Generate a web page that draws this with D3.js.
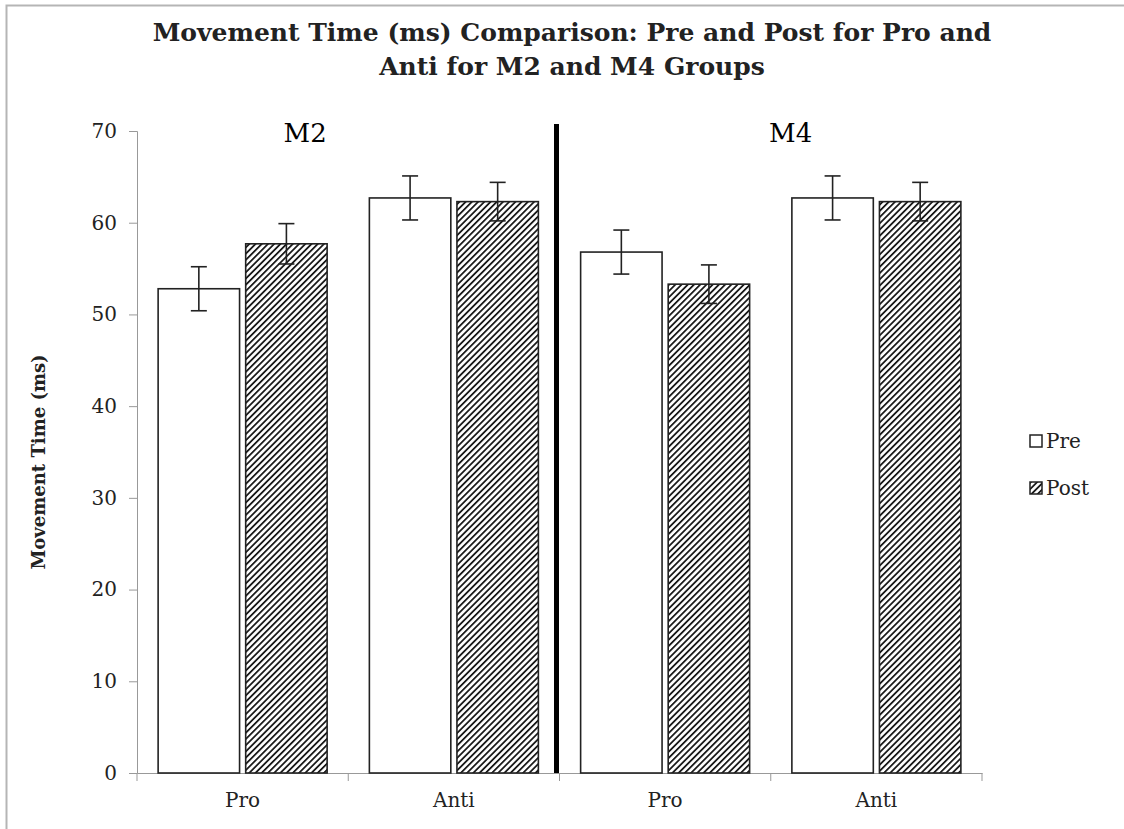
<!DOCTYPE html>
<html>
<head>
<meta charset="utf-8">
<script src="https://cdn.jsdelivr.net/npm/d3@7"></script>
<style>
  body { margin: 0; background: #fff; }
  text { font-family: "DejaVu Serif", serif; }
</style>
</head>
<body>
<div id="chart"></div>
<script>
var categories = ['M2 Pro', 'M2 Anti', 'M4 Pro', 'M4 Anti'];
var tickLabels = ['Pro', 'Anti', 'Pro', 'Anti'];
var series = ['Pre', 'Post'];
var preValues = [52.8, 62.7, 56.8, 62.7];
var postValues = [57.7, 62.3, 53.3, 62.3];
var preErrors = [2.4, 2.4, 2.4, 2.4];
var postErrors = [2.2, 2.1, 2.1, 2.1];
var groupLabels = ['M2', 'M4'];
var yTicks = [0, 10, 20, 30, 40, 50, 60, 70];

var width = 1124, height = 829;
var margin = {top: 131, right: 142, bottom: 56, left: 137};

var svg = d3.select('#chart').append('svg')
	.attr('width', width)
	.attr('height', height);

// hatch pattern
var defs = svg.append('defs');
var pat = defs.append('pattern')
	.attr('id', 'hatch')
	.attr('patternUnits', 'userSpaceOnUse')
	.attr('width', 4.4).attr('height', 4.4)
	.attr('patternTransform', 'rotate(45)');
pat.append('rect').attr('width', 4.4).attr('height', 4.4).attr('fill', '#fff');
pat.append('line')
	.attr('x1', 0).attr('y1', 0).attr('x2', 0).attr('y2', 4.4)
	.attr('stroke', '#1a1a1a').attr('stroke-width', 3.6);

// frame
svg.append('path')
	.attr('d', 'M6.5,' + (height + 2) + 'V5.5H' + (width + 2))
	.attr('fill', 'none').attr('stroke', '#b5b5b5').attr('stroke-width', 2);

var innerW = width - margin.left - margin.right;
var innerH = height - margin.top - margin.bottom;

var g = svg.append('g').attr('transform', 'translate(' + margin.left + ',' + margin.top + ')');

var x = d3.scaleBand().domain(categories).range([0, innerW]).paddingInner(0.2).paddingOuter(0.1);
var xTick = d3.scaleBand().domain(categories).range([0, innerW]);
var xSub = d3.scaleBand().domain(series).range([0, x.bandwidth()]).paddingInner(0.07);
var y = d3.scaleLinear().domain([0, 70]).range([innerH, 0]);

// y axis
var yAxis = g.append('g').attr('class', 'y-axis')
	.call(d3.axisLeft(y).tickValues(yTicks).tickSize(8).tickPadding(12));
yAxis.select('.domain').attr('stroke', '#999');
yAxis.selectAll('.tick line').attr('stroke', '#999');
yAxis.selectAll('.tick text').attr('font-size', 20).attr('fill', '#222')
	.style('font-family', '"DejaVu Serif", serif');

// x axis
var xAxis = g.append('g').attr('class', 'x-axis')
	.attr('transform', 'translate(0,' + innerH + ')')
	.call(d3.axisBottom(xTick).tickSize(0).tickFormat(function(d, i){ return tickLabels[i]; }).tickPadding(20));
xAxis.select('.domain').attr('stroke', '#999');
xAxis.selectAll('.tick text').attr('font-size', 20).attr('fill', '#222')
	.style('font-family', '"DejaVu Serif", serif');
var bounds = [0].concat(categories.map(function(c){ return xTick(c) + xTick.bandwidth(); }));
xAxis.selectAll('.sep').data(bounds).enter().append('line')
	.attr('x1', function(d){ return d; }).attr('x2', function(d){ return d; })
	.attr('y1', 0).attr('y2', 8)
	.attr('stroke', '#999');

// bars
var rows = categories.map(function(c, i){
	return [
		{cat: c, s: 'Pre', v: preValues[i], e: preErrors[i]},
		{cat: c, s: 'Post', v: postValues[i], e: postErrors[i]}
	];
});
var flat = d3.merge(rows);

g.selectAll('.bar').data(flat).enter().append('rect')
	.attr('class', 'bar')
	.attr('x', function(d){ return x(d.cat) + xSub(d.s); })
	.attr('width', xSub.bandwidth())
	.attr('y', function(d){ return y(d.v); })
	.attr('height', function(d){ return innerH - y(d.v); })
	.attr('fill', function(d){ return d.s === 'Pre' ? '#fff' : 'url(#hatch)'; })
	.attr('stroke', '#222').attr('stroke-width', 1.6);

// error bars
var cap = 8;
var err = g.selectAll('.err').data(flat).enter().append('g').attr('class', 'err')
	.attr('stroke', '#222').attr('stroke-width', 1.6);
err.append('line')
	.attr('x1', function(d){ return x(d.cat) + xSub(d.s) + xSub.bandwidth() / 2; })
	.attr('x2', function(d){ return x(d.cat) + xSub(d.s) + xSub.bandwidth() / 2; })
	.attr('y1', function(d){ return y(d.v + d.e); })
	.attr('y2', function(d){ return y(d.v - d.e); });
err.selectAll('.cap').data(function(d){ return [d.v + d.e, d.v - d.e].map(function(v){ return {d: d, v: v}; }); })
	.enter().append('line')
	.attr('x1', function(o){ return x(o.d.cat) + xSub(o.d.s) + xSub.bandwidth() / 2 - cap; })
	.attr('x2', function(o){ return x(o.d.cat) + xSub(o.d.s) + xSub.bandwidth() / 2 + cap; })
	.attr('y1', function(o){ return y(o.v); })
	.attr('y2', function(o){ return y(o.v); });

// divider between groups
var mid = xTick(categories[2]) - 3;
g.append('line')
	.attr('x1', mid).attr('x2', mid)
	.attr('y1', -7).attr('y2', innerH)
	.attr('stroke', '#000').attr('stroke-width', 5);

// group labels
g.selectAll('.grp').data(groupLabels).enter().append('text')
	.attr('class', 'grp')
	.attr('x', function(d, i){ return i === 0 ? x(categories[0]) + 147 : x(categories[2]) + 210; })
	.attr('y', 11)
	.attr('text-anchor', 'middle')
	.attr('font-size', 26)
	.attr('fill', '#000')
	.text(function(d){ return d; });

// title
var title = svg.append('text')
	.attr('x', 572).attr('y', 41)
	.attr('text-anchor', 'middle')
	.attr('font-size', 25).attr('font-weight', 'bold').attr('fill', '#222');
title.append('tspan').attr('x', 572).attr('dy', 0).text('Movement Time (ms) Comparison: Pre and Post for Pro and');
title.append('tspan').attr('x', 572).attr('dy', 34).text('Anti for M2 and M4 Groups');

// y label
svg.append('text')
	.attr('transform', 'translate(45,' + (margin.top + innerH / 2 + 10) + ') rotate(-90)')
	.attr('text-anchor', 'middle')
	.attr('font-size', 18).attr('font-weight', 'bold').attr('fill', '#222')
	.text('Movement Time (ms)');

// legend
var legend = svg.append('g').attr('transform', 'translate(1030,441)');
var li = legend.selectAll('.li').data(series).enter().append('g')
	.attr('transform', function(d, i){ return 'translate(0,' + (i * 47) + ')'; });
li.append('rect')
	.attr('x', 0).attr('y', -6).attr('width', 12).attr('height', 12)
	.attr('fill', function(d){ return d === 'Pre' ? '#fff' : 'url(#hatch)'; })
	.attr('stroke', '#222').attr('stroke-width', 1.5);
li.append('text')
	.attr('x', 16).attr('y', 7)
	.attr('font-size', 20).attr('fill', '#222')
	.text(function(d){ return d; });
</script>
</body>
</html>
